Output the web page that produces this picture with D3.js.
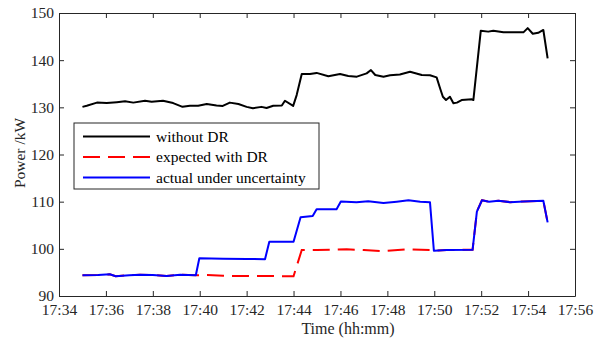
<!DOCTYPE html>
<html>
<head>
<meta charset="utf-8">
<script src="https://cdn.jsdelivr.net/npm/d3@7"></script>
<style>
  body { margin: 0; background: #fff; }
  text { font-family: "Liberation Serif", "Times New Roman", serif; }
</style>
</head>
<body>
<div class="chart"></div>
<script>
// series: [time, power kW]
const withoutDR = [
  ["17:35:00", 130.1], ["17:35:11", 130.35], ["17:35:37", 131.0], ["17:36:02", 130.9],
  ["17:36:28", 131.1], ["17:36:49", 131.3], ["17:37:10", 131.0], ["17:37:40", 131.4],
  ["17:37:57", 131.2], ["17:38:26", 131.4], ["17:38:52", 130.9], ["17:39:16", 130.1],
  ["17:39:35", 130.35], ["17:39:56", 130.35], ["17:40:18", 130.7], ["17:40:43", 130.4],
  ["17:40:59", 130.3], ["17:41:17", 131.0], ["17:41:39", 130.7], ["17:42:00", 130.1],
  ["17:42:16", 129.8], ["17:42:38", 130.1], ["17:42:51", 129.85], ["17:43:08", 130.35],
  ["17:43:30", 130.4], ["17:43:38", 131.4], ["17:43:59", 130.3], ["17:44:08", 132.6],
  ["17:44:21", 137.05], ["17:44:42", 137.05], ["17:44:59", 137.3], ["17:45:29", 136.6],
  ["17:45:59", 137.05], ["17:46:20", 136.65], ["17:46:42", 136.5], ["17:47:07", 137.2],
  ["17:47:18", 137.9], ["17:47:29", 136.85], ["17:47:50", 136.5], ["17:48:07", 136.8],
  ["17:48:32", 136.95], ["17:48:58", 137.55], ["17:49:28", 136.85], ["17:49:49", 136.8],
  ["17:50:06", 136.35], ["17:50:15", 134.0], ["17:50:22", 132.25], ["17:50:30", 131.55],
  ["17:50:40", 132.25], ["17:50:49", 130.85], ["17:50:58", 131.0], ["17:51:10", 131.55],
  ["17:51:36", 131.7], ["17:51:40", 131.55], ["17:51:59", 146.25], ["17:52:18", 146.05],
  ["17:52:31", 146.25], ["17:52:57", 145.9], ["17:53:22", 145.9], ["17:53:48", 145.9],
  ["17:53:59", 146.8], ["17:54:12", 145.6], ["17:54:26", 145.8], ["17:54:39", 146.4],
  ["17:54:50", 140.4]
];

const expectedDR = [
  ["17:35:00", 94.4], ["17:35:40", 94.45], ["17:36:10", 94.6], ["17:36:25", 94.2],
  ["17:37:00", 94.4], ["17:37:27", 94.5], ["17:38:00", 94.45], ["17:38:35", 94.25],
  ["17:39:10", 94.5], ["17:39:50", 94.4], ["17:40:20", 94.45], ["17:41:00", 94.3],
  ["17:41:26", 94.25], ["17:44:00", 94.2], ["17:44:21", 99.75], ["17:45:00", 99.75],
  ["17:46:16", 99.9], ["17:47:00", 99.75], ["17:47:50", 99.5], ["17:48:50", 99.9],
  ["17:49:49", 99.75], ["17:49:59", 99.6], ["17:50:32", 99.75], ["17:51:38", 99.8],
  ["17:51:49", 107.9], ["17:52:02", 110.3], ["17:52:20", 110.0], ["17:52:44", 110.2],
  ["17:53:14", 109.9], ["17:53:48", 110.05], ["17:54:39", 110.2], ["17:54:50", 105.6]
];

const actualDR = [
  ["17:35:00", 94.4], ["17:35:40", 94.45], ["17:36:10", 94.6], ["17:36:25", 94.2],
  ["17:37:00", 94.4], ["17:37:27", 94.5], ["17:38:00", 94.45], ["17:38:35", 94.25],
  ["17:39:10", 94.5], ["17:39:50", 94.4], ["17:39:59", 98.0], ["17:41:00", 97.9],
  ["17:42:00", 97.85], ["17:42:47", 97.8], ["17:42:58", 101.5], ["17:44:00", 101.5],
  ["17:44:18", 106.7], ["17:44:49", 106.95], ["17:44:59", 108.4], ["17:45:50", 108.4],
  ["17:46:01", 110.05], ["17:46:41", 109.9], ["17:47:11", 110.1], ["17:47:50", 109.7],
  ["17:48:24", 110.0], ["17:48:54", 110.3], ["17:49:24", 110.0], ["17:49:49", 109.9],
  ["17:49:59", 99.6], ["17:50:32", 99.75], ["17:51:38", 99.8], ["17:51:49", 107.9],
  ["17:52:02", 110.3], ["17:52:20", 110.0], ["17:52:44", 110.2], ["17:53:14", 109.9],
  ["17:53:48", 110.05], ["17:54:39", 110.2], ["17:54:50", 105.6]
];

const seriesNames = ["without DR", "expected with DR", "actual under uncertainty"];
const yTicks = [90, 100, 110, 120, 130, 140, 150];

const parse = d3.timeParse("%H:%M:%S");

const margin = ({top: 13, right: 19, bottom: 45, left: 59});
const width = 594 - margin.left - margin.right,
    height = 341 - margin.top - margin.bottom;

const svg = d3.select(".chart").append("svg")
    .attr("width", 594)
    .attr("height", 341)
    .append("g")
    .attr("transform", "translate(" + margin.left + "," + margin.top + ")");

const x = d3.scaleTime()
    .domain([parse("17:34:00"), parse("17:56:00")])
    .range([0, width]);

const y = d3.scaleLinear()
    .domain([90, 150])
    .range([height, 0]);

const axisColor = "#262626";
const xTickVals = x.ticks(d3.timeMinute.every(2));

const xAxis = d3.axisBottom(x)
    .tickValues(xTickVals)
    .tickFormat(d3.timeFormat("%H:%M"))
    .tickSizeInner(-5)
    .tickSizeOuter(0)
    .tickPadding(8);

const yAxis = d3.axisLeft(y)
    .tickValues(yTicks)
    .tickSizeInner(-5)
    .tickSizeOuter(0)
    .tickPadding(5);

function styleAxis(g) {
    g.select(".domain").attr("stroke", axisColor);
    g.selectAll(".tick line").attr("stroke", axisColor);
    g.selectAll(".tick text")
        .attr("fill", axisColor)
        .style("font-family", "'Liberation Serif', serif")
        .style("font-size", "15.5px");
}

svg.append("g")
    .attr("class", "axis x-axis")
    .attr("transform", "translate(0," + height + ")")
    .call(xAxis)
    .call(styleAxis);

svg.append("g")
    .attr("class", "axis y-axis")
    .call(yAxis)
    .call(styleAxis);

// mirrored box axes (top / right) without labels
svg.append("g")
    .call(d3.axisTop(x).tickValues(xTickVals).tickSizeInner(-5).tickSizeOuter(0).tickFormat(""))
    .call(styleAxis);

svg.append("g")
    .attr("transform", "translate(" + width + ",0)")
    .call(d3.axisRight(y).tickValues(yTicks).tickSizeInner(-5).tickSizeOuter(0).tickFormat(""))
    .call(styleAxis);

svg.append("text")
    .text("Time (hh:mm)")
    .attr("x", 289)
    .attr("y", height + 38)
    .attr("text-anchor", "middle")
    .attr("fill", axisColor)
    .style("font-size", "16px");

svg.append("text")
    .text("Power /kW")
    .attr("transform", "translate(" + (-34) + "," + (140) + ")rotate(-90)")
    .attr("text-anchor", "middle")
    .attr("fill", axisColor)
    .style("font-size", "15.5px");

const line = d3.line()
    .x(d => x(parse(d[0])))
    .y(d => y(d[1]));

svg.append("path")
    .datum(withoutDR)
    .attr("d", line)
    .attr("fill", "none")
    .attr("stroke", "#000")
    .attr("stroke-width", 2)
    .attr("stroke-linejoin", "round");

svg.append("path")
    .datum(expectedDR)
    .attr("d", line)
    .attr("fill", "none")
    .attr("stroke", "#ff0000")
    .attr("stroke-width", 2)
    .attr("stroke-dasharray", "17,8");

svg.append("path")
    .datum(actualDR)
    .attr("d", line)
    .attr("fill", "none")
    .attr("stroke", "#0000ff")
    .attr("stroke-width", 2)
    .attr("stroke-linejoin", "round");

// legend
const colors = ["#000", "#ff0000", "#0000ff"];
const dashes = [null, "17,8", null];

const legend = svg.append("g")
    .attr("transform", "translate(" + (74 - margin.left) + "," + (123 - margin.top) + ")");

legend.append("rect")
    .attr("width", 245)
    .attr("height", 66)
    .attr("fill", "#fff")
    .attr("stroke", axisColor)
    .attr("stroke-width", 1);

legend.selectAll(".legend-line")
    .data(seriesNames)
    .enter()
    .append("line")
    .attr("class", "legend-line")
    .attr("x1", 9)
    .attr("x2", 76)
    .attr("y1", (d, i) => 13.5 + i * 20.5)
    .attr("y2", (d, i) => 13.5 + i * 20.5)
    .attr("stroke", (d, i) => colors[i])
    .attr("stroke-width", 2)
    .attr("stroke-dasharray", (d, i) => dashes[i]);

legend.selectAll(".legend-text")
    .data(seriesNames)
    .enter()
    .append("text")
    .attr("class", "legend-text")
    .attr("x", 82)
    .attr("y", (d, i) => 18.5 + i * 20.5)
    .attr("fill", "#000")
    .style("font-size", "15.5px")
    .text(d => d);
</script>
</body>
</html>
